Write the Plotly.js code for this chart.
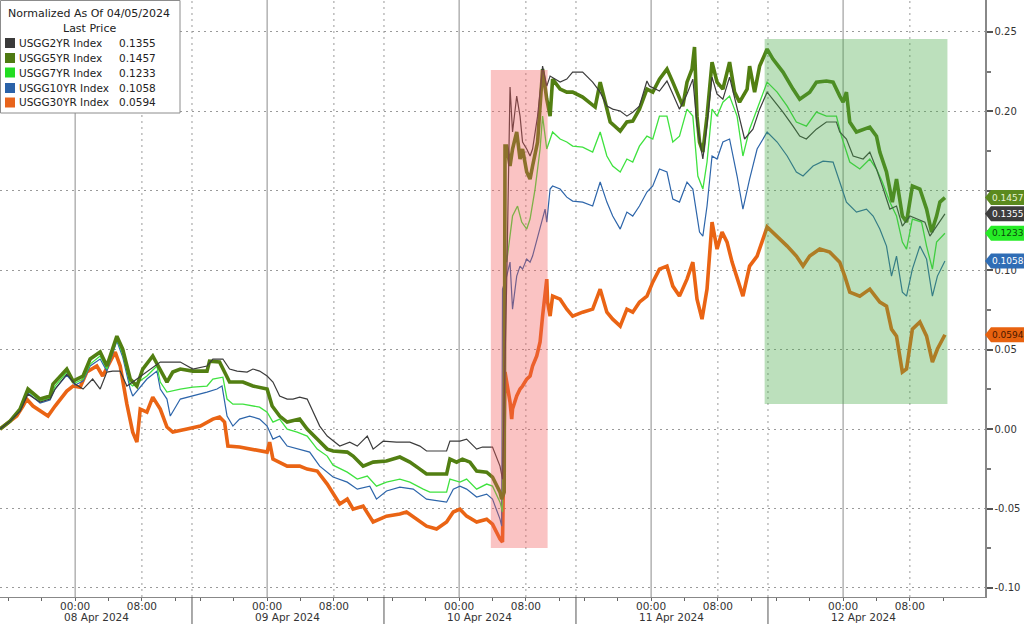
<!DOCTYPE html>
<html><head><meta charset="utf-8">
<script src="https://cdn.plot.ly/plotly-3.0.1.min.js"></script>
<style>html,body{margin:0;padding:0;background:#fff;overflow:hidden;} #chart{width:1024px;height:624px;}</style>
</head><body><div id="chart"></div>
<script>
// x = trading hours since session open (15:00 PT, 07 Apr 2024), daily 1h break removed (23h sessions)
const t2 = [0,1.2,2.4,3.35,4.8,6.0,6.6,8.0,9.0,9.95,11.1,12.0,12.8,13.5,14.4,15.2,15.9,17.6,19.2,21.6,22.4,23.1,24.8,25.5,26.7,27.5,28.4,29.6,30.3,31.1,32.0,32.7,33.5,34.4,35.1,35.9,36.8,37.5,38.3,39.2,39.9,40.7,41.9,42.8,44.0,44.7,45.9,47.5,49.1,50.3,51.1,53.5,53.9,55.1,55.9,57.1,57.8,59.0,59.9,60.2,60.7,61.1,61.4,61.9,62.3,62.6,63.1,63.5,63.8,64.4,64.9,65.0,65.5,65.9,67.1,67.9,68.6,69.8,71.0,71.9,72.7,73.4,74.3,75.1,75.8,76.6,77.5,77.8,79.0,79.9,80.6,81.4,82.3,83.0,83.5,84.2,84.7,85.3,85.9,86.6,87.4,88.3,89.2,90.2,91.0,91.9,92.6,93.8,95.0,95.8,96.6,97.8,99.0,100.2,100.6,101.4,102.2,103.4,104.2,105.0,105.7,106.6,107.4,108.1,109.0,109.8,110.8,111.4,112.2,113.2];
const y2 = [0,0.0050,0.0113,0.0220,0.0170,0.0189,0.0252,0.0346,0.0283,0.0252,0.0315,0.0252,0.0359,0.0365,0.0365,0.0271,0.0296,0.0359,0.0422,0.0422,0.0397,0.0378,0.0397,0.0441,0.0441,0.0378,0.0365,0.0359,0.0378,0.0365,0.0334,0.0296,0.0208,0.0189,0.0189,0.0201,0.0189,0.0107,0.0019,-0.0044,-0.0076,-0.0107,-0.0082,-0.0107,-0.0044,-0.0126,-0.0076,-0.0082,-0.0082,-0.0107,-0.0138,-0.0138,-0.0076,-0.0076,-0.0063,-0.0126,-0.0113,-0.0113,-0.0233,-0.0315,0.0925,0.2153,0.1870,0.2096,0.1970,0.1807,0.1763,0.1719,0.1763,0.1970,0.2222,0.2285,0.2159,0.2222,0.2184,0.2203,0.2247,0.2247,0.2184,0.2121,0.2033,0.2014,0.2002,0.1970,0.1995,0.2033,0.2191,0.2159,0.2128,0.2191,0.2109,0.2014,0.2109,0.2203,0.1920,0.1700,0.1920,0.2216,0.2109,0.2077,0.2216,0.2014,0.1826,0.1888,0.2014,0.2121,0.2077,0.1995,0.1907,0.1844,0.1826,0.1888,0.1933,0.1933,0.1870,0.1826,0.1719,0.1700,0.1744,0.1637,0.1530,0.1385,0.1404,0.1278,0.1341,0.1322,0.1303,0.1215,0.1278,0.1355];

const t5 = [0,1.2,2.4,3.35,4.8,6.0,6.35,8.0,8.75,9.95,10.8,12.0,12.8,14.0,14.7,15.6,16.4,17.1,18.3,19.2,20.0,20.7,21.6,23.1,24.8,25.1,26.3,26.9,27.5,29.1,30.3,32.0,32.6,33.5,34.4,35.9,36.8,38.0,39.2,39.9,41.6,42.3,43.5,44.7,46.3,47.9,49.1,50.3,51.1,53.5,53.9,54.7,55.4,56.3,57.1,58.3,59.0,59.9,60.1,60.4,60.5,60.7,61.1,61.4,61.9,62.3,62.6,63.1,63.5,63.8,64.4,64.9,65.0,65.5,65.9,66.2,67.1,67.9,68.6,69.8,71.3,71.9,72.5,73.1,74.3,75.1,75.8,76.6,77.5,78.2,79.0,79.9,80.6,81.4,81.8,82.3,82.9,83.2,83.5,83.8,84.2,84.7,85.3,85.9,86.6,87.4,88.0,88.6,89.5,89.8,90.4,91.0,91.9,92.6,93.8,95.0,95.8,97.0,97.8,99.0,99.8,100.6,101.0,101.4,101.8,102.6,103.4,104.2,105.0,105.4,106.2,106.9,107.4,108.1,108.6,109.3,110.2,111.0,111.6,112.2,112.6,113.2];
const y5 = [0,0.0050,0.0126,0.0252,0.0189,0.0208,0.0283,0.0378,0.0302,0.0334,0.0441,0.0485,0.0397,0.0585,0.0504,0.0315,0.0271,0.0378,0.0460,0.0378,0.0296,0.0359,0.0378,0.0365,0.0365,0.0428,0.0422,0.0359,0.0296,0.0296,0.0271,0.0252,0.0145,0.0082,0.0044,0.0063,0.0,-0.0063,-0.0126,-0.0138,-0.0145,-0.0170,-0.0233,-0.0208,-0.0201,-0.0176,-0.0208,-0.0252,-0.0283,-0.0283,-0.0189,-0.0208,-0.0189,-0.0208,-0.0264,-0.0271,-0.0302,-0.0397,-0.0441,-0.0397,0.1781,0.1781,0.1656,0.1763,0.1870,0.1700,0.1763,0.1618,0.1574,0.1656,0.1807,0.2184,0.2266,0.2077,0.1970,0.2203,0.2140,0.2121,0.2121,0.2090,0.2027,0.2184,0.2058,0.1933,0.1876,0.1933,0.1939,0.2014,0.2140,0.2121,0.2203,0.2266,0.2184,0.2077,0.2033,0.2184,0.2266,0.2405,0.1970,0.1807,0.1744,0.1970,0.2310,0.2184,0.2140,0.2310,0.2121,0.2058,0.2140,0.2285,0.2121,0.2285,0.2392,0.2329,0.2247,0.2140,0.2077,0.2121,0.2184,0.2191,0.2184,0.2096,0.2058,0.2121,0.1933,0.1870,0.1888,0.1901,0.1844,0.1744,0.1618,0.1429,0.1574,0.1341,0.1303,0.1530,0.1511,0.1385,0.1240,0.1341,0.1429,0.1457];

const t7 = [0,1.2,2.4,3.35,4.8,6.0,6.6,8.0,9.0,9.95,10.8,12.0,12.8,14.0,14.7,15.6,15.9,17.6,18.8,19.2,20.0,21.6,23.1,24.8,25.5,26.7,27.2,27.9,29.1,30.3,31.1,32.0,32.7,33.5,34.4,35.6,36.8,38.0,39.2,39.9,41.6,42.8,44.0,45.1,46.3,47.9,49.1,50.7,51.5,53.5,53.9,55.1,55.9,57.1,58.3,59.0,59.9,60.2,60.5,60.7,61.1,61.4,62.0,62.5,63.1,63.5,64.1,64.7,65.0,65.5,66.2,67.1,67.9,68.6,69.8,71.0,71.9,72.7,73.4,74.3,75.1,75.8,76.6,77.5,78.2,79.0,79.9,80.6,81.4,82.3,83.0,83.6,84.2,84.7,85.3,85.9,86.6,87.4,88.3,89.0,89.8,90.7,91.9,93.1,94.3,95.4,96.6,97.8,99.0,100.2,100.8,101.8,103.0,104.2,105.0,105.7,106.6,107.4,108.1,108.6,109.3,110.4,111.0,111.7,112.2,113.2];
const y7 = [0,0.0050,0.0120,0.0239,0.0176,0.0195,0.0271,0.0359,0.0290,0.0315,0.0409,0.0460,0.0378,0.0567,0.0472,0.0283,0.0271,0.0334,0.0397,0.0296,0.0233,0.0252,0.0264,0.0271,0.0315,0.0327,0.0189,0.0157,0.0157,0.0145,0.0138,0.0107,0.0044,0.0063,0.0,-0.0019,-0.0044,-0.0126,-0.0170,-0.0227,-0.0271,-0.0315,-0.0296,-0.0359,-0.0334,-0.0315,-0.0334,-0.0378,-0.0397,-0.0397,-0.0315,-0.0334,-0.0315,-0.0378,-0.0346,-0.0359,-0.0460,-0.0522,0.1177,0.1051,0.1215,0.1341,0.1404,0.1303,0.1259,0.1322,0.1511,0.1763,0.1970,0.1763,0.1870,0.1826,0.1807,0.1781,0.1775,0.1744,0.1870,0.1719,0.1656,0.1618,0.1700,0.1681,0.1781,0.1844,0.1826,0.1970,0.1970,0.1807,0.1844,0.2014,0.1970,0.1593,0.1511,0.1681,0.2014,0.1970,0.2058,0.2096,0.1970,0.1719,0.1888,0.2014,0.2184,0.2121,0.2033,0.1933,0.1907,0.1995,0.1970,0.1970,0.1844,0.1681,0.1637,0.1700,0.1637,0.1555,0.1429,0.1341,0.1177,0.1133,0.1322,0.1303,0.1152,0.1007,0.1177,0.1233];

const t10 = [0,1.2,2.4,3.35,4.8,6.0,6.6,8.0,9.0,9.95,10.8,12.0,12.8,14.0,14.7,15.6,15.9,17.6,18.8,19.2,20.0,20.4,21.6,23.1,24.8,26.0,26.6,27.2,27.9,28.7,29.9,31.1,32.0,32.7,33.5,34.4,35.9,37.1,38.3,39.2,39.9,41.6,42.8,44.3,45.1,46.3,47.9,49.5,51.1,53.5,54.3,55.1,55.9,57.1,58.3,59.0,59.9,60.1,60.2,60.7,61.1,61.4,61.9,62.3,62.6,63.1,63.5,63.8,64.4,64.9,65.3,65.5,65.9,66.2,67.1,67.9,68.6,69.8,71.0,71.9,72.7,73.4,74.3,75.1,75.8,76.6,77.5,78.2,79.0,79.9,80.6,81.4,82.3,83.0,83.5,83.8,84.2,84.7,85.3,85.9,86.6,87.4,88.3,89.0,89.8,90.7,91.9,93.1,94.3,95.4,96.2,97.4,98.6,99.8,100.6,101.4,102.6,103.8,104.6,105.4,106.2,106.8,107.4,108.1,108.6,109.3,110.2,111.0,111.7,112.3,113.2];
const y10 = [0,0.0044,0.0113,0.0227,0.0164,0.0183,0.0252,0.0340,0.0277,0.0302,0.0397,0.0441,0.0365,0.0554,0.0453,0.0252,0.0208,0.0315,0.0365,0.0252,0.0189,0.0082,0.0189,0.0208,0.0233,0.0252,0.0271,0.0082,0.0019,0.0063,0.0082,0.0063,0.0019,-0.0063,-0.0044,-0.0107,-0.0126,-0.0145,-0.0233,-0.0271,-0.0302,-0.0334,-0.0378,-0.0359,-0.0441,-0.0390,-0.0365,-0.0378,-0.0441,-0.0460,-0.0378,-0.0359,-0.0378,-0.0428,-0.0409,-0.0441,-0.0567,-0.0611,0.0881,0.0963,0.1051,0.0755,0.0963,0.1026,0.1007,0.1070,0.1051,0.1089,0.1215,0.1303,0.1385,0.1303,0.1511,0.1530,0.1511,0.1460,0.1435,0.1429,0.1404,0.1555,0.1429,0.1341,0.1259,0.1366,0.1341,0.1404,0.1492,0.1530,0.1637,0.1618,0.1448,0.1429,0.1555,0.1511,0.1341,0.1240,0.1215,0.1404,0.1719,0.1700,0.1807,0.1826,0.1593,0.1385,0.1574,0.1763,0.1870,0.1807,0.1719,0.1618,0.1593,0.1656,0.1687,0.1681,0.1555,0.1429,0.1366,0.1385,0.1341,0.1259,0.1152,0.0963,0.1089,0.0862,0.0837,0.1007,0.1152,0.1070,0.0837,0.0963,0.1058];

const t30 = [0,2.0,2.75,3.2,3.95,5.15,5.75,6.6,8.0,8.75,9.6,10.4,11.6,12.3,13.2,13.8,14.4,15.2,15.9,16.4,16.8,17.6,18.3,19.2,20.0,20.7,22.4,24.0,25.5,26.3,26.9,27.3,28.7,30.3,32.0,32.3,32.7,34.4,35.9,36.8,38.0,39.2,40.7,41.6,42.3,43.5,44.7,46.3,47.9,48.7,49.9,51.1,52.3,53.5,54.3,55.1,55.9,57.1,58.3,59.0,59.9,60.2,60.5,60.7,61.1,61.3,61.4,61.9,62.3,62.6,63.1,63.5,63.8,64.3,64.7,65.0,65.3,65.5,65.6,65.9,66.2,67.1,67.9,68.6,69.8,71.0,71.9,72.7,73.4,74.3,75.1,75.8,76.6,77.5,78.2,79.0,79.9,80.6,81.4,82.3,83.0,83.5,84.1,84.7,85.3,85.9,86.5,87.1,87.7,88.3,89.0,89.8,90.7,91.9,93.1,94.3,95.4,96.2,97.0,98.2,99.4,100.6,101.2,101.8,103.0,104.2,105.4,106.2,106.8,107.4,108.1,108.6,109.3,110.2,111.0,111.7,112.3,113.2];
const y30 = [0,0.0082,0.0145,0.0189,0.0145,0.0107,0.0082,0.0145,0.0239,0.0271,0.0264,0.0359,0.0397,0.0334,0.0422,0.0485,0.0397,0.0157,-0.0019,-0.0082,0.0126,0.0107,0.0201,0.0126,0.0013,-0.0019,0.0,0.0019,0.0063,0.0076,0.0044,-0.0107,-0.0113,-0.0126,-0.0145,-0.0082,-0.0189,-0.0233,-0.0233,-0.0252,-0.0264,-0.0346,-0.0472,-0.0441,-0.0504,-0.0485,-0.0585,-0.0548,-0.0535,-0.0522,-0.0567,-0.0611,-0.0629,-0.0585,-0.0522,-0.0504,-0.0548,-0.0585,-0.0567,-0.0598,-0.0692,-0.0711,0.0359,0.0296,0.0170,0.0063,0.0126,0.0208,0.0252,0.0271,0.0315,0.0334,0.0397,0.0460,0.0548,0.0711,0.0837,0.0944,0.0799,0.0711,0.0837,0.0818,0.0755,0.0711,0.0736,0.0755,0.0881,0.0736,0.0692,0.0648,0.0755,0.0736,0.0799,0.0837,0.0925,0.1007,0.1026,0.0900,0.0837,0.0944,0.1051,0.0818,0.0692,0.0881,0.1303,0.1133,0.1240,0.1177,0.1051,0.0944,0.0837,0.1026,0.1089,0.1272,0.1215,0.1152,0.1089,0.1026,0.1089,0.1133,0.1114,0.1051,0.0963,0.0862,0.0837,0.0881,0.0799,0.0774,0.0629,0.0585,0.0359,0.0378,0.0629,0.0674,0.0585,0.0422,0.0504,0.0594];

const seriesNames = ['USGG2YR Index','USGG5YR Index','USGG7YR Index','USGG10YR Index','USGG30YR Index'];
const lastPrice = [0.1355,0.1457,0.1233,0.1058,0.0594];
const legendTitle = ['Normalized As Of 04/05/2024','Last Price'];
const dayLabels = ['08 Apr 2024','09 Apr 2024','10 Apr 2024','11 Apr 2024','12 Apr 2024'];
const hourLabels = ['00:00','08:00'];
const hourOffsets = [9,17];       // hours after session open
const minorOffsets = [1,5,13,21];
const sessionLength = 23;
const yTicks = [-0.10,-0.05,0.00,0.05,0.10,0.15,0.20,0.25];
const yTickText = ['-0.10','-0.05','0.00','0.05','0.10','','0.20','0.25'];
const pinkBox = {x:[58.8,65.6], y:[-0.0749,0.226]};
const greenBox = {x:[91.6,113.5], y:[0.0158,0.2456]};

// ---------- styling ----------
const FONT = 'DejaVu Sans, Verdana, sans-serif';
const lineColors = ['#3c3c3c','#527f12','#3fe23f','#2d65aa','#ea6414'];
const lineWidths = [1.2,3.6,1.3,1.2,3.6];
const tagBg = ['#3d3d3d','#5b8a1e','#26ec26','#2f6db5','#e8620f'];
const tagFg = ['#ffffff','#e6f3d4','#0b4a0b','#ffffff','#4a1800'];
const swatch = ['#3a3a3a','#4e7a12','#22dd22','#2b62a8','#e8641c'];

const W = 1024, H = 624, ML = 0, MR = 39, MT = 0, MB = 27;
const PW = W - ML - MR, PH = H - MT - MB;
const fx = x => (x - ML) / PW;
const fy = y => 1 - (y - MT) / PH;

const xs = [t2,t5,t7,t10,t30], ys = [y2,y5,y7,y10,y30];
const order = [4,3,2,1,0];
const traces = order.map(i => ({
  x: xs[i], y: ys[i], type: 'scatter', mode: 'lines', name: seriesNames[i],
  line: {color: lineColors[i], width: lineWidths[i]}, hoverinfo: 'skip'
}));

const nDays = dayLabels.length;
const tickvals = [], ticktext = [], minorvals = [];
for (let d = 0; d < nDays; d++) {
  hourOffsets.forEach((h, k) => { tickvals.push(d*sessionLength + h); ticktext.push(hourLabels[k]); });
  minorOffsets.forEach(h => minorvals.push(d*sessionLength + h));
}

const shapes = [];
for (let d = 0; d < nDays; d++) {
  shapes.push({type:'line', xref:'x', yref:'paper', x0:d*sessionLength+hourOffsets[0], x1:d*sessionLength+hourOffsets[0], y0:0, y1:1, layer:'below', line:{color:'#8c8c8c', width:1}});
  shapes.push({type:'line', xref:'x', yref:'paper', x0:d*sessionLength+hourOffsets[1], x1:d*sessionLength+hourOffsets[1], y0:0, y1:1, layer:'below', line:{color:'#9a9a9a', width:1, dash:'2px,4px'}});
  if (d > 0) {
    shapes.push({type:'line', xref:'x', yref:'paper', x0:d*sessionLength, x1:d*sessionLength, y0:0, y1:1, layer:'below', line:{color:'#9a9a9a', width:1, dash:'2px,4px'}});
    shapes.push({type:'line', xref:'x', yref:'paper', x0:d*sessionLength, x1:d*sessionLength, y0:-MB/PH, y1:0, layer:'above', line:{color:'#555555', width:1}});
  }
}
shapes.push({type:'rect', xref:'x', yref:'y', x0:pinkBox.x[0], x1:pinkBox.x[1], y0:pinkBox.y[0], y1:pinkBox.y[1], layer:'above', line:{width:0}, fillcolor:'rgba(240,90,90,0.36)'});
shapes.push({type:'rect', xref:'x', yref:'y', x0:greenBox.x[0], x1:greenBox.x[1], y0:greenBox.y[0], y1:greenBox.y[1], layer:'above', line:{width:0}, fillcolor:'rgba(70,170,70,0.36)'});

// legend box
shapes.push({type:'rect', xref:'paper', yref:'paper', x0:fx(0.5), x1:fx(180), y0:fy(113), y1:fy(0.5), layer:'above', fillcolor:'#ffffff', line:{color:'#8c8c8c', width:1}});
const annotations = [];
const LF = 11, EF = 10.5;
annotations.push({xref:'paper', yref:'paper', x:fx(89), y:fy(14), text:legendTitle[0], showarrow:false, xanchor:'center', yanchor:'middle', font:{family:FONT, size:LF, color:'#222'}});
annotations.push({xref:'paper', yref:'paper', x:fx(89), y:fy(28.5), text:legendTitle[1], showarrow:false, xanchor:'center', yanchor:'middle', font:{family:FONT, size:LF, color:'#222'}});
const rowY = [43,58,72.5,88,102.5];
seriesNames.forEach((nm, i) => {
  const cy = rowY[i];
  shapes.push({type:'rect', xref:'paper', yref:'paper', x0:fx(5), x1:fx(15), y0:fy(cy+5), y1:fy(cy-5), layer:'above', fillcolor:swatch[i], line:{width:0}});
  annotations.push({xref:'paper', yref:'paper', x:fx(18), y:fy(cy), text:nm, showarrow:false, xanchor:'left', yanchor:'middle', borderpad:0, font:{family:FONT, size:EF, color:'#222'}});
  annotations.push({xref:'paper', yref:'paper', x:fx(157), y:fy(cy), text:lastPrice[i].toFixed(4), showarrow:false, xanchor:'right', yanchor:'middle', borderpad:0, font:{family:FONT, size:EF, color:'#222'}});
});

// last-price tags on the right axis
const hh = 7.5 / PH * 0.3758;
const tip = fx(985), body = fx(991), end = fx(1060);
seriesNames.forEach((nm, i) => {
  const v = lastPrice[i];
  shapes.push({type:'path', xref:'paper', yref:'y', layer:'above', fillcolor:tagBg[i], line:{width:0},
    path:`M ${tip},${v} L ${body},${v+hh} L ${end},${v+hh} L ${end},${v-hh} L ${body},${v-hh} Z`});
  annotations.push({xref:'paper', yref:'y', x:fx(991), y:v, text:v.toFixed(4), showarrow:false, xanchor:'left', yanchor:'middle', borderpad:0, font:{family:FONT, size:9, color:tagFg[i]}});
});

// day labels under the hour ticks, centred on each session
dayLabels.forEach((lab, d) => {
  annotations.push({xref:'x', yref:'paper', x:d*sessionLength + sessionLength/2, y:fy(617), text:lab, showarrow:false, xanchor:'center', yanchor:'middle', borderpad:0, font:{family:FONT, size:10.5, color:'#333'}});
});

const layout = {
  width: W, height: H,
  margin: {l:ML, r:MR, t:MT, b:MB, pad:0},
  paper_bgcolor:'#ffffff', plot_bgcolor:'#ffffff',
  showlegend:false,
  font:{family:FONT, size:10.5, color:'#333'},
  xaxis:{
    range:[0,118], tickmode:'array', tickvals:tickvals, ticktext:ticktext,
    showgrid:false, zeroline:false, showline:true, linecolor:'#888', linewidth:1,
    ticks:'outside', ticklen:3, tickcolor:'#666', ticklabelstandoff:-4,
    tickfont:{family:FONT, size:10.5, color:'#333'},
    minor:{tickmode:'array', tickvals:minorvals, ticks:'outside', ticklen:3, tickcolor:'#666', showgrid:false},
    fixedrange:true
  },
  yaxis:{
    side:'right', range:[-0.1057,0.2701], tickmode:'array', tickvals:yTicks, ticktext:yTickText,
    showgrid:true, gridcolor:'#9a9a9a', griddash:'2px,4px', gridwidth:1, zeroline:false,
    showline:true, linecolor:'#888', linewidth:1.5,
    ticks:'outside', ticklen:6, tickwidth:2, tickcolor:'#555', tickfont:{family:FONT, size:10, color:'#333'},
    minor:{tickmode:'linear', tick0:0, dtick:0.025, ticks:'outside', ticklen:4, tickcolor:'#777', showgrid:false},
    fixedrange:true
  },
  shapes: shapes,
  annotations: annotations
};

Plotly.newPlot('chart', traces, layout, {staticPlot:true, displayModeBar:false});
</script></body></html>
